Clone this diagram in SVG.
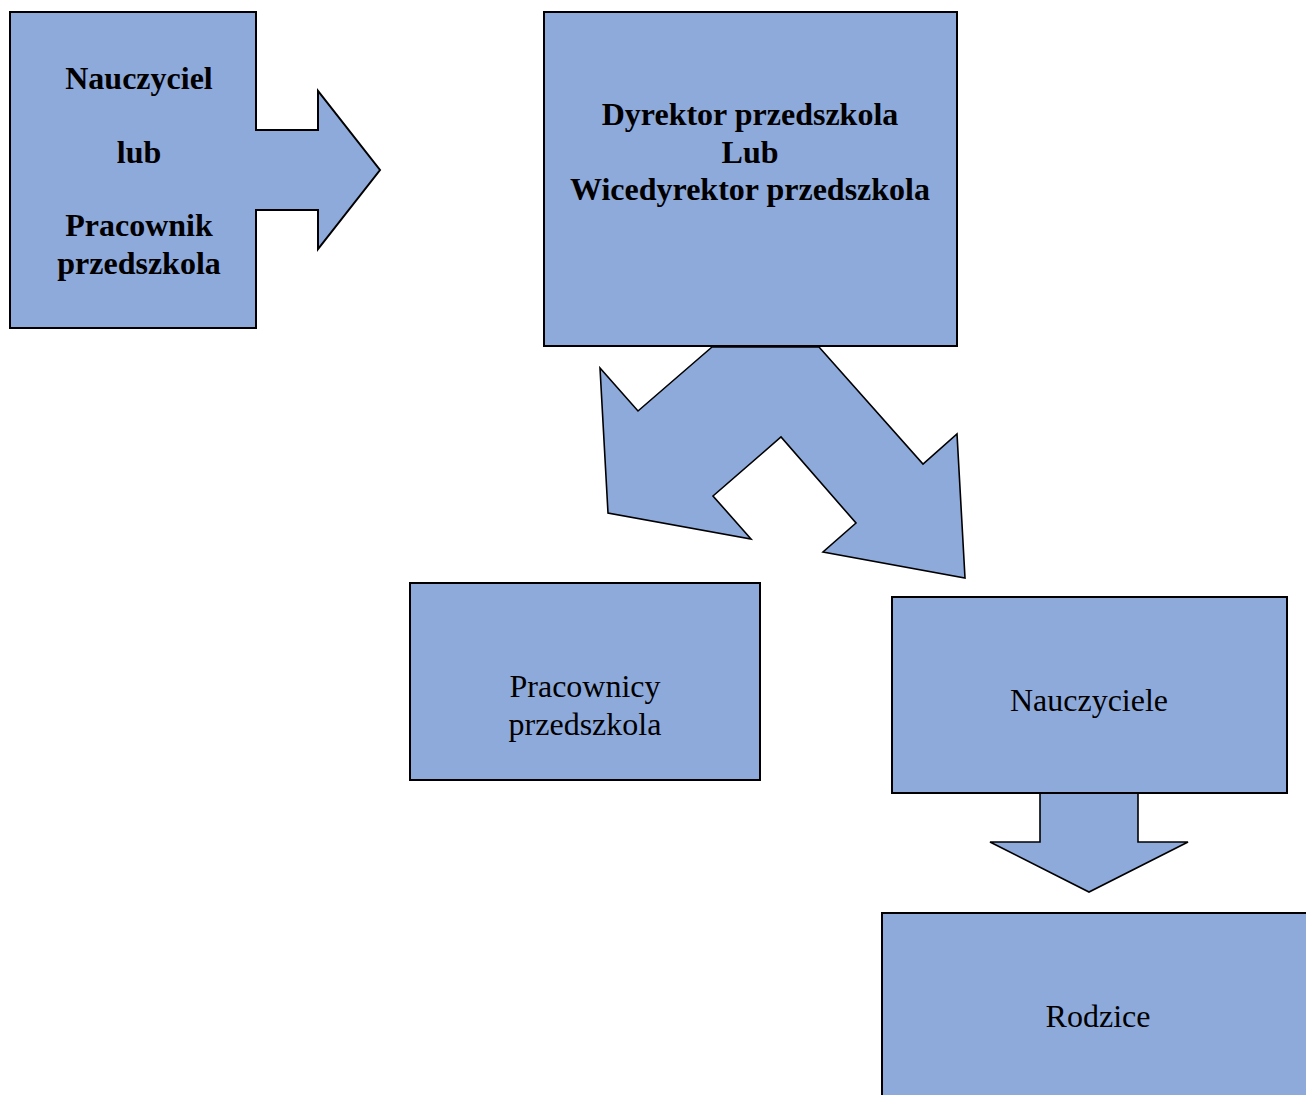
<svg xmlns="http://www.w3.org/2000/svg" width="1306" height="1095" viewBox="0 0 1306 1095">
<style>
.shape{fill:#8EAADB;stroke:#000;stroke-width:2;stroke-linejoin:miter}
.arrow{fill:#8EAADB;stroke:#000;stroke-width:1.6;stroke-linejoin:miter}
.b{font-family:"Liberation Serif","Times New Roman",serif;font-weight:bold;font-size:32px;fill:#000;text-anchor:middle}
.r{font-family:"Liberation Serif","Times New Roman",serif;font-size:32px;fill:#000;text-anchor:middle}
</style>
<rect width="1306" height="1095" fill="#fff"/>
<g id="connectors">
<path id="fork-arrow" class="arrow" d="M712,347 L638,411 L600,368 L608,513 L751,539 L713,496 L781,437 L856,523 L823,552 L965,578 L957,434 L923,464 L819,347 Z"/>
<path id="down-arrow" class="arrow" d="M1040,793 L1040,842 L990,842 L1089,892 L1188,842 L1138,842 L1138,793 Z"/>
</g>
<g id="node-nauczyciel">
<path class="shape" d="M10,12 L256,12 L256,130 L318,130 L318,91 L380,170 L318,249 L318,210 L256,210 L256,328 L10,328 Z"/>
<text class="b" x="139" y="89">Nauczyciel</text>
<text class="b" x="139" y="163">lub</text>
<text class="b" x="139" y="236">Pracownik</text>
<text class="b" x="139" y="274">przedszkola</text>
</g>
<g id="node-dyrektor">
<rect class="shape" x="544" y="12" width="413" height="334"/>
<text class="b" x="750" y="125">Dyrektor przedszkola</text>
<text class="b" x="750" y="163">Lub</text>
<text class="b" x="750" y="200">Wicedyrektor przedszkola</text>
</g>
<g id="node-pracownicy">
<rect class="shape" x="410" y="583" width="350" height="197"/>
<text class="r" x="585" y="697">Pracownicy</text>
<text class="r" x="585" y="735">przedszkola</text>
</g>
<g id="node-nauczyciele">
<rect class="shape" x="892" y="597" width="395" height="196"/>
<text class="r" x="1089" y="711">Nauczyciele</text>
</g>
<g id="node-rodzice">
<rect class="shape" x="882" y="913" width="432" height="200"/>
<text class="r" x="1098" y="1027">Rodzice</text>
</g>
</svg>
